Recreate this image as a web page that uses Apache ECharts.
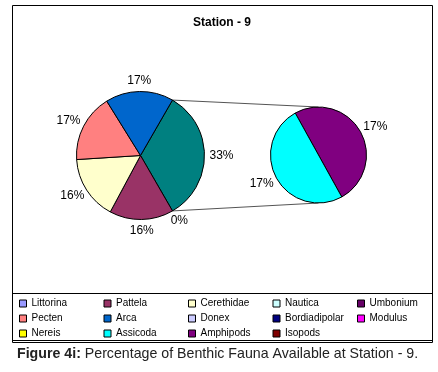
<!DOCTYPE html>
<html>
<head>
<meta charset="utf-8">
<script src="https://cdn.jsdelivr.net/npm/echarts@6/dist/echarts.min.js"></script>
<style>
  html, body { margin: 0; padding: 0; background: #fff; }
  #chart { width: 438px; height: 372px; }
</style>
</head>
<body>
<div id="chart"></div>
<script>
// legend order, as in the sheet
var legendNames = ['Littorina', 'Pattela', 'Cerethidae', 'Nautica', 'Umbonium',
  'Pecten', 'Arca', 'Donex', 'Bordiadipolar', 'Modulus',
  'Nereis', 'Assicoda', 'Amphipods', 'Isopods'];
var legendColors = ['#9999FF', '#993366', '#FFFFCC', '#CCFFFF', '#660066',
  '#FF8080', '#0066CC', '#CCCCFF', '#000080', '#FF00FF',
  '#FFFF00', '#00FFFF', '#800080', '#800000'];

// main pie, clockwise starting with the "Other" slice (percent)
var mainNames = ['Other', 'Littorina', 'Pattela', 'Cerethidae', 'Pecten', 'Arca'];
var mainValues = [33, 0, 16, 16, 17, 17];

// second pie (the split out part of "Other")
var subNames = ['Amphipods', 'Assicoda'];
var subValues = [17, 17];

// nothing found at this station, no label
var absentNames = ['Nautica', 'Umbonium', 'Donex', 'Bordiadipolar', 'Modulus', 'Nereis', 'Isopods'];

var FONT = 'Arial, "Liberation Sans", sans-serif';
var mainPie = { cx: 140.5, cy: 155.5, r: 64 };
var subPie = { cx: 318.5, cy: 155, r: 48, start: 119 };

function colorOf(name) {
  if (name === 'Other') return '#008080';
  return legendColors[legendNames.indexOf(name)];
}
function sum(arr) {
  return arr.reduce(function (a, b) { return a + b; }, 0);
}

var mainData = [];
mainNames.forEach(function (n, i) {
  mainData.push({ name: n, value: mainValues[i], itemStyle: { color: colorOf(n), borderWidth: mainValues[i] ? 1 : 0 } });
  if (n === 'Littorina') {
    absentNames.forEach(function (a) {
      mainData.push({ name: a, value: 0, itemStyle: { color: colorOf(a), borderWidth: 0 }, label: { show: false } });
    });
  }
});
var subData = subNames.map(function (n, i) {
  return { name: n, value: subValues[i], itemStyle: { color: colorOf(n) } };
});

// the "Other" slice is centred on the right hand side
var mainStart = mainValues[0] / sum(mainValues) * 360 / 2;

function midAngles(data, start) {
  var vals = data.map(function (d) { return d.value; });
  var total = sum(vals), acc = 0;
  return vals.map(function (v) {
    var a = start - (acc + v / 2) / total * 360;
    acc += v;
    return a;
  });
}
var mids = [midAngles(mainData, mainStart), midAngles(subData, subPie.start)];
var geo = [mainPie, subPie];

// excel style "outside end" labels
function placeLabel(params) {
  var g = geo[params.seriesIndex];
  var th = mids[params.seriesIndex][params.dataIndex] * Math.PI / 180;
  var d = g.r + 5;
  var w = params.labelRect.width, h = params.labelRect.height;
  return {
    x: g.cx + Math.cos(th) * d + Math.cos(th) * w / 2,
    y: g.cy - Math.sin(th) * d - Math.sin(th) * h / 2,
    align: 'center',
    verticalAlign: 'middle'
  };
}

var a0 = mainStart * Math.PI / 180;
var topStart = [mainPie.cx + mainPie.r * Math.cos(a0), mainPie.cy - mainPie.r * Math.sin(a0)];
var botStart = [mainPie.cx + mainPie.r * Math.cos(a0), mainPie.cy + mainPie.r * Math.sin(a0)];

var chartDom = document.getElementById('chart');
var myChart = echarts.init(chartDom);

var pieCommon = {
  type: 'pie',
  clockwise: true,
  avoidLabelOverlap: false,
  silent: true,
  itemStyle: { borderColor: '#000', borderWidth: 1 },
  label: {
    show: true,
    position: 'outside',
    formatter: '{c}%',
    color: '#000',
    fontSize: 12,
    fontFamily: FONT
  },
  labelLine: { show: false },
  labelLayout: placeLabel,
  emphasis: { disabled: true }
};

var option = {
  animation: false,
  backgroundColor: '#fff',
  legend: {
    data: legendNames,
    selectedMode: false,
    orient: 'horizontal',
    left: 19,
    top: 296,
    width: 425,
    padding: 0,
    itemGap: 0,
    itemWidth: 7,
    itemHeight: 7,
    icon: 'rect',
    itemStyle: { borderColor: '#000', borderWidth: 1 },
    textStyle: { fontSize: 10, fontFamily: FONT, color: '#000', width: 72, lineHeight: 15 }
  },
  series: [
    Object.assign({}, pieCommon, {
      name: 'main',
      center: [mainPie.cx, mainPie.cy],
      radius: mainPie.r,
      startAngle: mainStart,
      data: mainData
    }),
    Object.assign({}, pieCommon, {
      name: 'split',
      center: [subPie.cx, subPie.cy],
      radius: subPie.r,
      startAngle: subPie.start,
      data: subData
    })
  ],
  graphic: [
    { type: 'rect', z: 0, shape: { x: 12.5, y: 5.5, width: 420, height: 335 }, style: { fill: null, stroke: '#000', lineWidth: 1 } },
    { type: 'rect', z: 0, shape: { x: 12.5, y: 293.5, width: 420, height: 49 }, style: { fill: null, stroke: '#000', lineWidth: 1 } },
    { type: 'line', z: 0, shape: { x1: topStart[0], y1: topStart[1], x2: subPie.cx, y2: subPie.cy - subPie.r }, style: { stroke: '#555', lineWidth: 1 } },
    { type: 'line', z: 0, shape: { x1: botStart[0], y1: botStart[1], x2: subPie.cx, y2: subPie.cy + subPie.r }, style: { stroke: '#555', lineWidth: 1 } },
    {
      type: 'text', z: 5,
      style: { x: 222, y: 23, text: 'Station - 9', align: 'center', verticalAlign: 'middle',
        fill: '#000', font: 'bold 12px ' + FONT }
    },
    {
      type: 'text', z: 5,
      style: {
        x: 17, y: 354.5, verticalAlign: 'middle', fill: '#222',
        text: '{b|Figure 4i:} Percentage of Benthic Fauna Available at Station - 9.',
        font: '14.2px ' + FONT,
        rich: { b: { fontWeight: 'bold', fontSize: 14.2, fontFamily: FONT, fill: '#222' } }
      }
    }
  ]
};

myChart.setOption(option);
</script>
</body>
</html>
